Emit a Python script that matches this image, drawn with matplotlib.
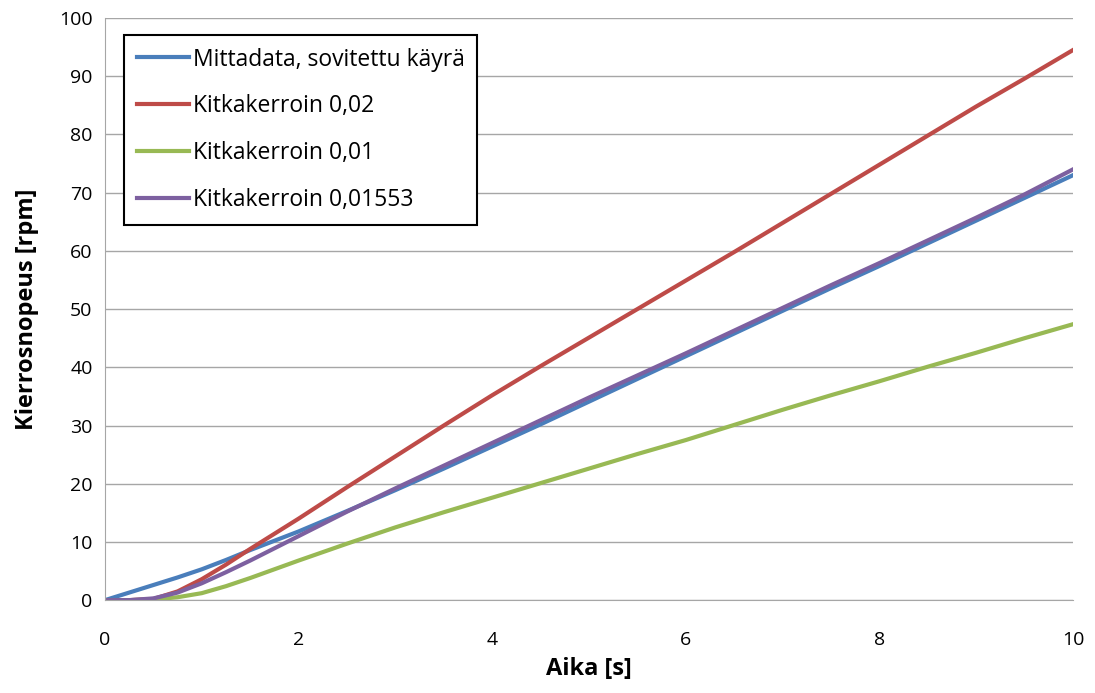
import matplotlib.pyplot as plt
import numpy as np

# time axis [s]
aika = [0, 0.25, 0.5, 0.75, 1, 1.25, 1.5, 1.75, 2, 2.5, 3, 3.5, 4, 4.5, 5, 5.5, 6, 6.5, 7, 7.5, 8, 8.5, 9, 9.5, 10]

# speeds [rpm]
mittadata = [0, 1.3, 2.6, 3.9, 5.3, 6.9, 8.6, 10.2, 11.8, 15.3, 18.9, 22.6, 26.4, 30.2, 34.1, 38.0, 41.9, 45.8, 49.7, 53.6, 57.4, 61.3, 65.2, 69.1, 73.0]
kitka_002 = [0, 0, 0.2, 1.5, 3.6, 6.1, 8.8, 11.4, 14.0, 19.4, 24.7, 30.0, 35.2, 40.2, 45.1, 50.0, 54.9, 59.8, 64.8, 69.8, 74.8, 79.8, 84.8, 89.6, 94.5]
kitka_001 = [0, 0, 0.1, 0.5, 1.2, 2.4, 3.8, 5.3, 6.8, 9.7, 12.5, 15.1, 17.6, 20.1, 22.6, 25.1, 27.5, 30.1, 32.7, 35.2, 37.6, 40.1, 42.5, 45.0, 47.4]
kitka_001553 = [0, 0, 0.3, 1.3, 2.9, 4.8, 6.8, 8.9, 11.0, 15.2, 19.2, 23.1, 27.0, 30.9, 34.8, 38.6, 42.4, 46.3, 50.2, 54.1, 57.9, 61.8, 65.7, 69.7, 74.0]

plt.rcParams['font.family'] = ['Open Sans', 'DejaVu Sans']

fig = plt.figure(figsize=(10.95, 6.93), dpi=100)
ax = fig.add_axes([0.0959, 0.134, 0.884, 0.84])

lw = 3
ax.plot(aika, mittadata, color="#4A7EBB", lw=lw, label="Mittadata, sovitettu käyrä")
ax.plot(aika, kitka_002, color="#BE4B48", lw=lw, label="Kitkakerroin 0,02")
ax.plot(aika, kitka_001, color="#98B954", lw=lw, label="Kitkakerroin 0,01")
ax.plot(aika, kitka_001553, color="#7D60A0", lw=lw, label="Kitkakerroin 0,01553")

ax.set_xlim(0, 10)
ax.set_ylim(0, 100)
ax.set_xticks(np.arange(0, 11, 2))
ax.set_yticks(np.arange(0, 101, 10))
ax.grid(axis="y", color="#a6a6a6", lw=1)
ax.set_axisbelow(True)
ax.tick_params(length=0, labelsize=14, pad=9)
ax.tick_params(axis="x", pad=22)
for s in ["top", "right"]:
    ax.spines[s].set_visible(False)
for s in ["left", "bottom"]:
    ax.spines[s].set_color("#a6a6a6")

ax.set_xlabel("Aika [s]", fontsize=17, fontweight="bold", labelpad=6)
ax.set_ylabel("Kierrosnopeus [rpm]", fontsize=17, fontweight="bold", labelpad=14)

leg = ax.legend(loc="upper left", bbox_to_anchor=(0.0196, 0.971), borderaxespad=0,
                fontsize=16.5, fancybox=False, edgecolor="black", framealpha=1,
                handlelength=2.3, handletextpad=0.15, labelspacing=1.0, borderpad=0.55)
leg.get_frame().set_linewidth(1.5)

plt.savefig("out.png", dpi=100)
